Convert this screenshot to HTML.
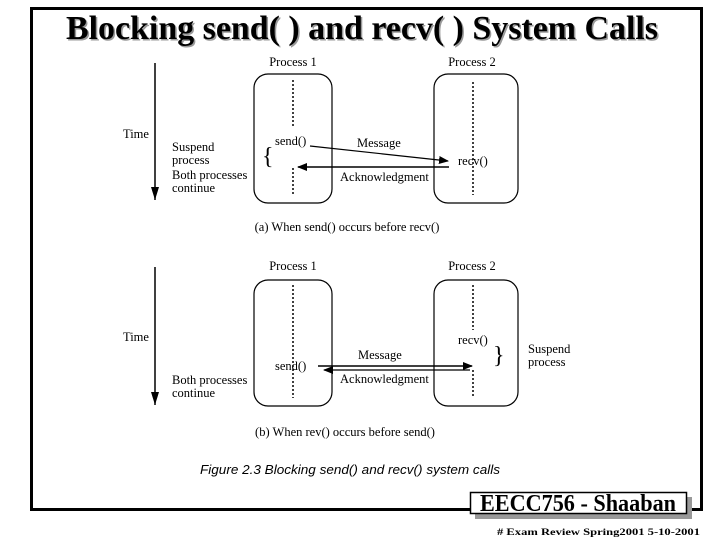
<!DOCTYPE html>
<html><head><meta charset="utf-8"><style>
html,body{margin:0;padding:0;background:#fff;width:720px;height:540px;overflow:hidden}
svg{display:block}
text{font-family:"Liberation Serif",serif}
</style></head><body>
<svg width="720" height="540" viewBox="0 0 720 540" xmlns="http://www.w3.org/2000/svg">
<defs>
<marker id="ah" markerWidth="10" markerHeight="8" refX="9" refY="4" orient="auto" markerUnits="userSpaceOnUse">
<path d="M0,0 L10,4 L0,8 z" fill="#000"/></marker>
</defs>
<rect x="31.5" y="8.5" width="670" height="501" fill="none" stroke="#000" stroke-width="3"/>
<text x="362" y="39" font-size="34" font-weight="bold" text-anchor="middle" fill="#999" textLength="592" lengthAdjust="spacingAndGlyphs" transform="translate(1.5,1.5)">Blocking send( ) and recv( ) System Calls</text>
<text x="362" y="39" font-size="34" font-weight="bold" text-anchor="middle" fill="#000" textLength="592" lengthAdjust="spacingAndGlyphs">Blocking send( ) and recv( ) System Calls</text>

<g font-size="12.5" fill="#000">
<line x1="155" y1="63" x2="155" y2="200" stroke="#000" stroke-width="1.5"/>
<path d="M151,187 L159,187 L155,200 z"/>
<text x="123" y="138">Time</text>
<text x="293" y="66" text-anchor="middle">Process 1</text>
<text x="472" y="66" text-anchor="middle">Process 2</text>
<rect x="254" y="74" width="78" height="129" rx="14" fill="none" stroke="#000" stroke-width="1.2"/>
<rect x="434" y="74" width="84" height="129" rx="14" fill="none" stroke="#000" stroke-width="1.2"/>
<line x1="293" y1="80" x2="293" y2="127" stroke="#000" stroke-width="1.5" stroke-dasharray="2,2"/>
<line x1="293" y1="168" x2="293" y2="195" stroke="#000" stroke-width="1.5" stroke-dasharray="2,2"/>
<line x1="473" y1="82" x2="473" y2="195" stroke="#000" stroke-width="1.5" stroke-dasharray="2,2"/>
<text x="275" y="145">send()</text>
<line x1="310" y1="146" x2="448" y2="161" stroke="#000" stroke-width="1.2" marker-end="url(#ah)"/>
<text x="357" y="147">Message</text>
<text x="458" y="165">recv()</text>
<line x1="449" y1="167" x2="298" y2="167" stroke="#000" stroke-width="1.5" marker-end="url(#ah)"/>
<text x="340" y="181">Acknowledgment</text>
<text x="262" y="164" font-size="24">{</text>
<text x="172" y="151">Suspend</text>
<text x="172" y="164">process</text>
<text x="172" y="179">Both processes</text>
<text x="172" y="192">continue</text>
<text x="347" y="231" text-anchor="middle">(a) When send() occurs before recv()</text>

<line x1="155" y1="267" x2="155" y2="405" stroke="#000" stroke-width="1.5"/>
<path d="M151,392 L159,392 L155,405 z"/>
<text x="123" y="341">Time</text>
<text x="293" y="270" text-anchor="middle">Process 1</text>
<text x="472" y="270" text-anchor="middle">Process 2</text>
<rect x="254" y="280" width="78" height="126" rx="14" fill="none" stroke="#000" stroke-width="1.2"/>
<rect x="434" y="280" width="84" height="126" rx="14" fill="none" stroke="#000" stroke-width="1.2"/>
<line x1="293" y1="285" x2="293" y2="398" stroke="#000" stroke-width="1.5" stroke-dasharray="2,2"/>
<line x1="473" y1="285" x2="473" y2="330" stroke="#000" stroke-width="1.5" stroke-dasharray="2,2"/>
<line x1="473" y1="370" x2="473" y2="398" stroke="#000" stroke-width="1.5" stroke-dasharray="2,2"/>
<text x="458" y="344">recv()</text>
<text x="493" y="363" font-size="24">}</text>
<text x="528" y="353">Suspend</text>
<text x="528" y="366">process</text>
<text x="275" y="370">send()</text>
<line x1="318" y1="366" x2="472" y2="366" stroke="#000" stroke-width="1.5" marker-end="url(#ah)"/>
<text x="358" y="359">Message</text>
<line x1="470" y1="370" x2="324" y2="370" stroke="#000" stroke-width="1.2" marker-end="url(#ah)"/>
<text x="340" y="383">Acknowledgment</text>
<text x="172" y="384">Both processes</text>
<text x="172" y="397">continue</text>
<text x="345" y="436" text-anchor="middle">(b) When rev() occurs before send()</text>
</g>
<text x="350" y="474" text-anchor="middle" font-size="13" font-style="italic" style="font-family:'Liberation Sans',sans-serif" textLength="300" lengthAdjust="spacingAndGlyphs">Figure 2.3 Blocking send() and recv() system calls</text>

<rect x="475" y="497" width="217" height="22" fill="#999"/>
<rect x="470.5" y="492.5" width="216" height="21" fill="#fff" stroke="#000" stroke-width="1.5"/>
<text x="578" y="511" text-anchor="middle" font-size="24" font-weight="bold" textLength="196" lengthAdjust="spacingAndGlyphs">EECC756 - Shaaban</text>
<text x="497" y="535" font-size="9" font-weight="bold" textLength="203" lengthAdjust="spacingAndGlyphs">#  Exam Review  Spring2001  5-10-2001</text>
</svg>
</body></html>
